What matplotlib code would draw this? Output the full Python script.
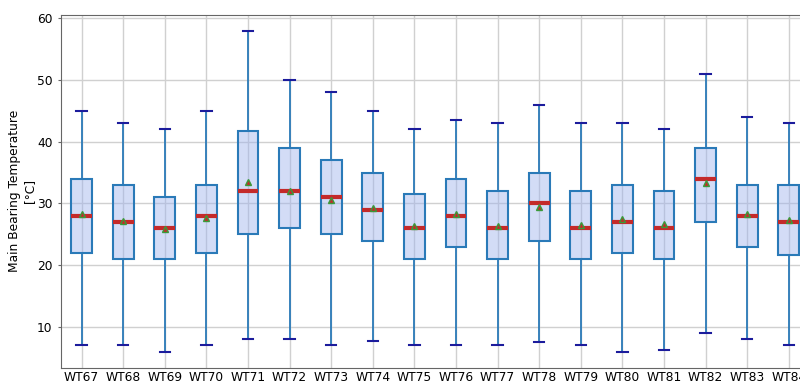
import matplotlib
matplotlib.use("Agg")
import matplotlib.pyplot as plt

# turbine labels
turbines = ["WT67", "WT68", "WT69", "WT70", "WT71", "WT72", "WT73", "WT74", "WT75",
            "WT76", "WT77", "WT78", "WT79", "WT80", "WT81", "WT82", "WT83", "WT84"]

# box statistics (deg C)
whis_low = [7, 7, 6, 7, 8, 8, 7, 7.7, 7, 7, 7, 7.6, 7, 6, 6.2, 9, 8, 7]
q1 = [22, 21, 21, 22, 25, 26, 25, 24, 21, 23, 21, 24, 21, 22, 21, 27, 22.9, 21.6]
medians = [28, 27, 26, 28, 32, 32, 31, 29, 26, 28, 26, 30, 26, 27, 26, 34, 28, 27]
q3 = [34, 33, 31, 33, 41.8, 39, 37, 35, 31.6, 34, 32, 35, 32, 33, 32, 39, 33, 33]
whis_high = [45, 43, 42, 45, 58, 50, 48, 45, 42, 43.5, 43, 46, 43, 43.1, 42, 51, 44, 43]
means = [28.3, 27.1, 25.9, 27.7, 33.4, 32.0, 30.6, 29.2, 26.4, 28.3, 26.3, 29.4,
         26.5, 27.5, 26.7, 33.3, 28.3, 27.3]

stats = []
for i, name in enumerate(turbines):
    stats.append({
        "label": name, "whislo": whis_low[i], "q1": q1[i], "med": medians[i],
        "q3": q3[i], "whishi": whis_high[i], "mean": means[i], "fliers": [],
    })

fig = plt.figure(figsize=(8, 3.83), dpi=100)
ax = fig.add_axes([0.076, 0.04, 0.936, 0.922])

ax.grid(True, color="#d0d0d0", linewidth=1)
ax.set_axisbelow(True)

ax.bxp(stats, showmeans=True, patch_artist=True, widths=0.5,
       boxprops=dict(facecolor=(0.62, 0.70, 0.93, 0.45), edgecolor="#2a7ab8", linewidth=1.5),
       whiskerprops=dict(color="#2a7ab8", linewidth=1.3),
       capprops=dict(color="#1c1c9c", linewidth=1.5),
       medianprops=dict(color="#c42a2a", linewidth=3),
       meanprops=dict(marker="^", markerfacecolor="#c42a2a", markeredgecolor="#3a9a3a",
                      markersize=4.5))

ax.set_xlim(0.5, 18.5)
ax.set_ylim(3.4, 60.6)
ax.set_yticks([10, 20, 30, 40, 50, 60])
ax.tick_params(axis="both", labelsize=8.8, length=2.5, color="#666666")
ax.tick_params(axis="x", length=0, pad=2.5)
ax.set_ylabel("Main Bearing Temperature\n[°C]", fontsize=8.8, labelpad=0.5)

for s in ax.spines.values():
    s.set_color("#666666")

fig.savefig("out.png", dpi=100)
